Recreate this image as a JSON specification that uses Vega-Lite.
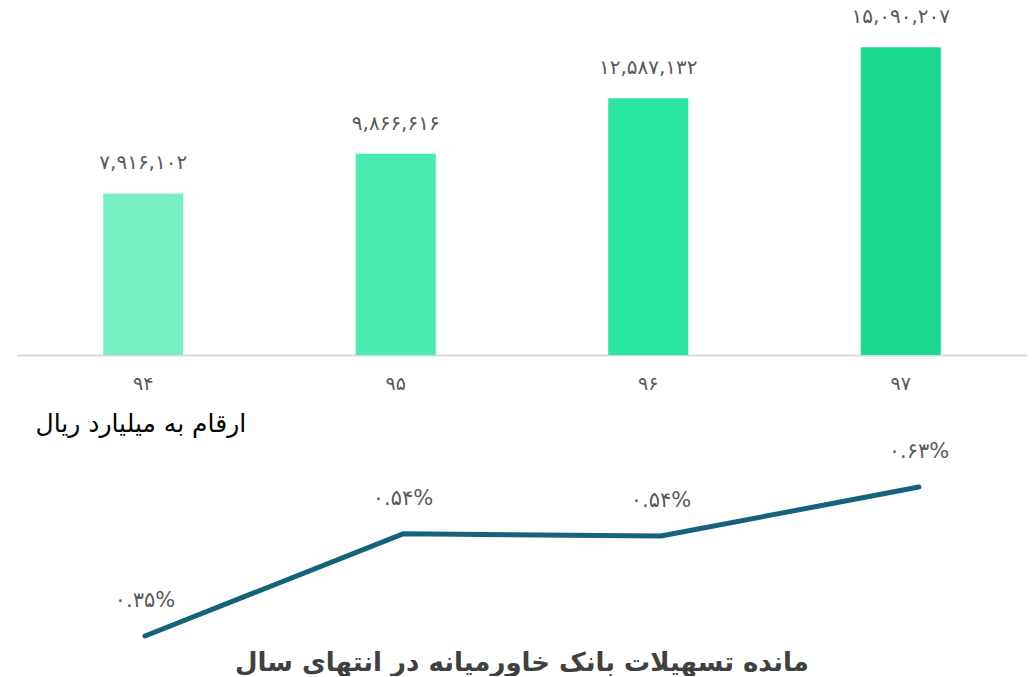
{
  "$schema": "https://vega.github.io/schema/vega-lite/v6.json",
  "padding": {"left": 17, "top": 0, "right": 6, "bottom": 0},
  "autosize": {"type": "pad"},
  "background": "white",
  "spacing": 0,
  "config": {"view": {"stroke": null}, "font": "DejaVu Sans"},
  "title": {
    "text": "مانده تسهیلات بانک خاورمیانه در انتهای سال",
    "orient": "bottom",
    "anchor": "middle",
    "fontSize": 26,
    "fontWeight": "bold",
    "color": "#404040",
    "offset": 11
  },
  "datasets": {
    "bars": [
      {"year": "۹۴", "value": 7916102, "label": "۷,۹۱۶,۱۰۲"},
      {"year": "۹۵", "value": 9866616, "label": "۹,۸۶۶,۶۱۶"},
      {"year": "۹۶", "value": 12587132, "label": "۱۲,۵۸۷,۱۳۲"},
      {"year": "۹۷", "value": 15090207, "label": "۱۵,۰۹۰,۲۰۷"}
    ],
    "ratio": [
      {"year": 94, "ratio": 0.35, "label": "۰.۳۵%"},
      {"year": 95, "ratio": 0.542, "label": "۰.۵۴%"},
      {"year": 96, "ratio": 0.538, "label": "۰.۵۴%"},
      {"year": 97, "ratio": 0.63, "label": "۰.۶۳%"}
    ]
  },
  "vconcat": [
    {
      "width": 1010,
      "height": 355,
      "data": {"name": "bars"},
      "encoding": {
        "x": {
          "field": "year",
          "type": "nominal",
          "sort": null,
          "scale": {"paddingInner": 0.683, "paddingOuter": 0.3415},
          "axis": {
            "title": "ارقام به میلیارد ریال",
            "titleFontSize": 25,
            "titleFontWeight": "normal",
            "titleColor": "#000000",
            "titleAlign": "left",
            "titleBaseline": "middle",
            "titleX": 18,
            "titleY": 68,
            "labelAngle": 0,
            "labelFontSize": 19,
            "labelColor": "#595959",
            "labelPadding": 19,
            "ticks": false,
            "tickSize": 0,
            "domainColor": "#d9d9d9",
            "domainWidth": 2
          }
        },
        "y": {
          "field": "value",
          "type": "quantitative",
          "scale": {"domain": [0, 17400000], "nice": false},
          "axis": null
        }
      },
      "layer": [
        {
          "mark": {"type": "bar"},
          "encoding": {
            "color": {
              "field": "year",
              "type": "nominal",
              "sort": null,
              "scale": {"range": ["#78efc3", "#4aebb0", "#2be6a0", "#1ad98e"]},
              "legend": null
            }
          }
        },
        {
          "mark": {"type": "text", "dy": -30, "fontSize": 20, "color": "#595959"},
          "encoding": {"text": {"field": "label"}}
        }
      ]
    },
    {
      "width": 1010,
      "height": 200,
      "data": {"name": "ratio"},
      "encoding": {
        "x": {
          "field": "year",
          "type": "quantitative",
          "scale": {"domain": [93.504, 97.419], "nice": false, "zero": false},
          "axis": null
        },
        "y": {
          "field": "ratio",
          "type": "quantitative",
          "scale": {"domain": [0.35, 0.726], "nice": false, "zero": false},
          "axis": null
        }
      },
      "layer": [
        {
          "mark": {"type": "line", "color": "#15627d", "strokeWidth": 5, "strokeCap": "round", "strokeJoin": "round"}
        },
        {
          "mark": {"type": "text", "dy": -35, "fontSize": 21, "color": "#595959"},
          "encoding": {"text": {"field": "label"}}
        }
      ]
    }
  ]
}
